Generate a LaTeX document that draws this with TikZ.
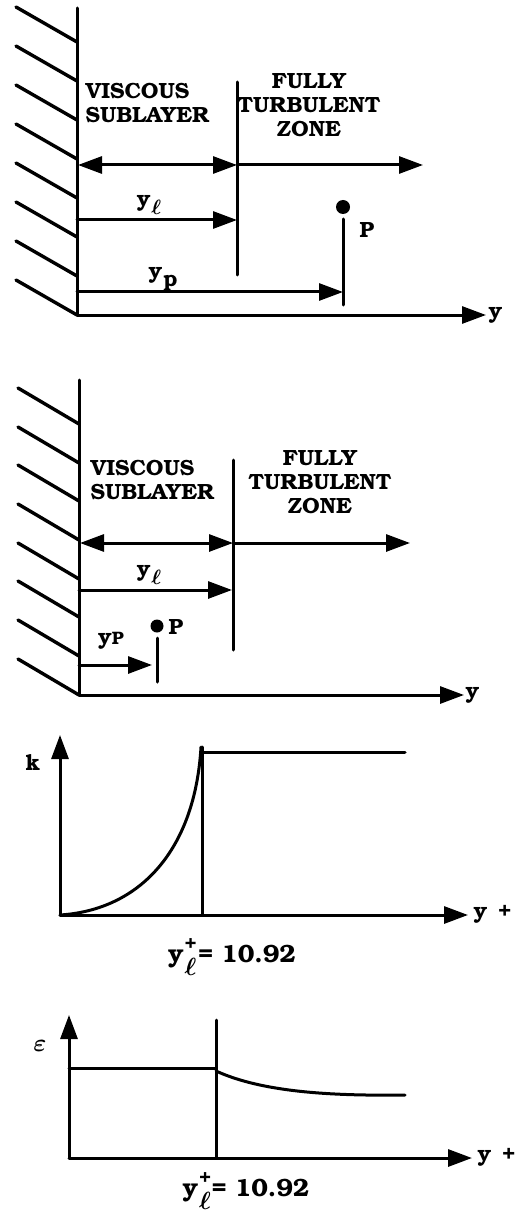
\documentclass[tikz,border=0pt]{standalone}
\usepackage[T1]{fontenc}
\usepackage{bookman}
\usepackage{amsmath}
\usetikzlibrary{arrows.meta}
\tikzset{
  arr/.style={-{Triangle[length=24pt,width=17pt]}},
  darr/.style={{Triangle[length=24pt,width=17pt]}-{Triangle[length=24pt,width=17pt]}},
  hatch/.style={line width=3.4pt},
  lab/.style={inner sep=0pt,font=\fontsize{22}{24}\selectfont\bfseries\boldmath},
  biglab/.style={inner sep=0pt,font=\fontsize{25}{27}\selectfont\bfseries\boldmath},
}
\newcommand{\ysub}[1]{y\kern1pt\raisebox{-8pt}{#1}}
\newcommand{\yplus}{$\textbf{y}\kern1pt^{\raisebox{3pt}{\fontsize{20}{20}\selectfont+}}_{\raisebox{-3pt}{$\ell$}}$}
\begin{document}
\begin{tikzpicture}[x=1pt,y=-1pt,line cap=round,line join=round,line width=3pt]
  \useasboundingbox (0,0) rectangle (517,1214);
  % first sketch: point P in the fully turbulent zone
  \coordinate (wt1) at (77,8);
  \coordinate (o1) at (77,315);
  \coordinate (x1) at (486,315);
  \draw (wt1) -- (o1);
  \foreach \h in {42,81,120,159,198,237,276,315}
    \draw[hatch] (16,\h-35) -- (77,\h);
  \draw[arr] (o1) -- (x1) node[lab,right=1pt] (yax1) {y};
  \coordinate (a1) at (78,165);
  \coordinate (d1) at (237,165);
  \coordinate (e1) at (423,165);
  \draw[darr] (a1) -- (d1);
  \draw[arr] (d1) -- (e1);
  \draw (237,82) -- (237,275);
  \node[lab,anchor=north west,align=left] (vis1) at (84,81) {VISCOUS\\SUBLAYER};
  \node[lab,align=center] (ful1) at (309,105) {FULLY\\TURBULENT\\ZONE};
  \coordinate (l1s) at (77,220);
  \coordinate (l1e) at (237,220);
  \draw[arr] (l1s) -- (l1e);
  \node[lab] (yl1) at (149,205) {\ysub{$\ell$}};
  \coordinate (p1) at (343,207);
  \fill (p1) circle (7);
  \draw (343,219) -- (343,305);
  \node[lab] (P1) at (367,230) {P};
  \coordinate (q1s) at (77,292);
  \coordinate (q1e) at (343,292);
  \draw[arr] (q1s) -- (q1e);
  \node[lab] (yp1) at (163,279) {\ysub{p}};
  % second sketch: point P inside the viscous sublayer
  \coordinate (wt2) at (79,380);
  \coordinate (o2) at (79,695);
  \coordinate (x2) at (464,695);
  \draw (wt2) -- (o2);
  \foreach \h in {424,463,501,540,579,617,656,695}
    \draw[hatch] (18,\h-36) -- (79,\h);
  \draw[arr] (o2) -- (x2) node[lab,right=0pt] (yax2) {y};
  \coordinate (a2) at (80,543);
  \coordinate (d2) at (233,543);
  \coordinate (e2) at (410,543);
  \draw[darr] (a2) -- (d2);
  \draw[arr] (d2) -- (e2);
  \draw (233,460) -- (233,650);
  \node[lab,anchor=north west,align=left] (vis2) at (89,458) {VISCOUS\\SUBLAYER};
  \node[lab,align=center] (ful2) at (320,482) {FULLY\\TURBULENT\\ZONE};
  \coordinate (l2s) at (79,590);
  \coordinate (l2e) at (232,590);
  \draw[arr] (l2s) -- (l2e);
  \node[lab] (yl2) at (149,575) {\ysub{$\ell$}};
  \coordinate (p2) at (157,626);
  \fill (p2) circle (6.5);
  \draw (157,638) -- (157,682);
  \node[lab] (P2) at (176,627) {P};
  \coordinate (q2s) at (79,665);
  \coordinate (q2e) at (152,665);
  \draw[arr] (q2s) -- (q2e);
  \node[lab] (yp2) at (111,641) {y{\fontsize{18}{18}\selectfont P}};
  % k profile
  \coordinate (o3) at (60,915);
  \coordinate (t3) at (60,735);
  \coordinate (x3) at (468,915);
  \draw[arr] (o3) -- (t3);
  \draw[arr] (o3) -- (x3) node[lab,right=4pt] (yax3) {y\,\,\,+};
  \node[lab] (k3) at (33,763) {k};
  \coordinate (c3) at (201,747);
  \draw (o3) .. controls (140,910) and (195,850) .. (c3);
  \draw (202,747) -- (202,915);
  \draw (202,752) -- (405,752);
  \node[biglab] (v3) at (232,958) {\yplus\kern1pt= 10.92};
  % epsilon profile
  \coordinate (o4) at (69,1158);
  \coordinate (t4) at (69,1015);
  \coordinate (x4) at (472,1158);
  \draw[arr] (o4) -- (t4);
  \draw[arr] (o4) -- (x4) node[lab,right=4pt] (yax4) {y\,\,\,+};
  \node[lab,font=\fontsize{28}{28}\selectfont\boldmath] (e4) at (40,1046) {$\varepsilon$};
  \coordinate (c4) at (216,1071);
  \draw (69,1068) -- (216,1068);
  \draw (216,1020) -- (216,1158);
  \draw (c4) .. controls (262,1092) and (330,1096) .. (405,1095);
  \node[biglab] (v4) at (246,1192) {\yplus= 10.92};
\end{tikzpicture}
\end{document}
